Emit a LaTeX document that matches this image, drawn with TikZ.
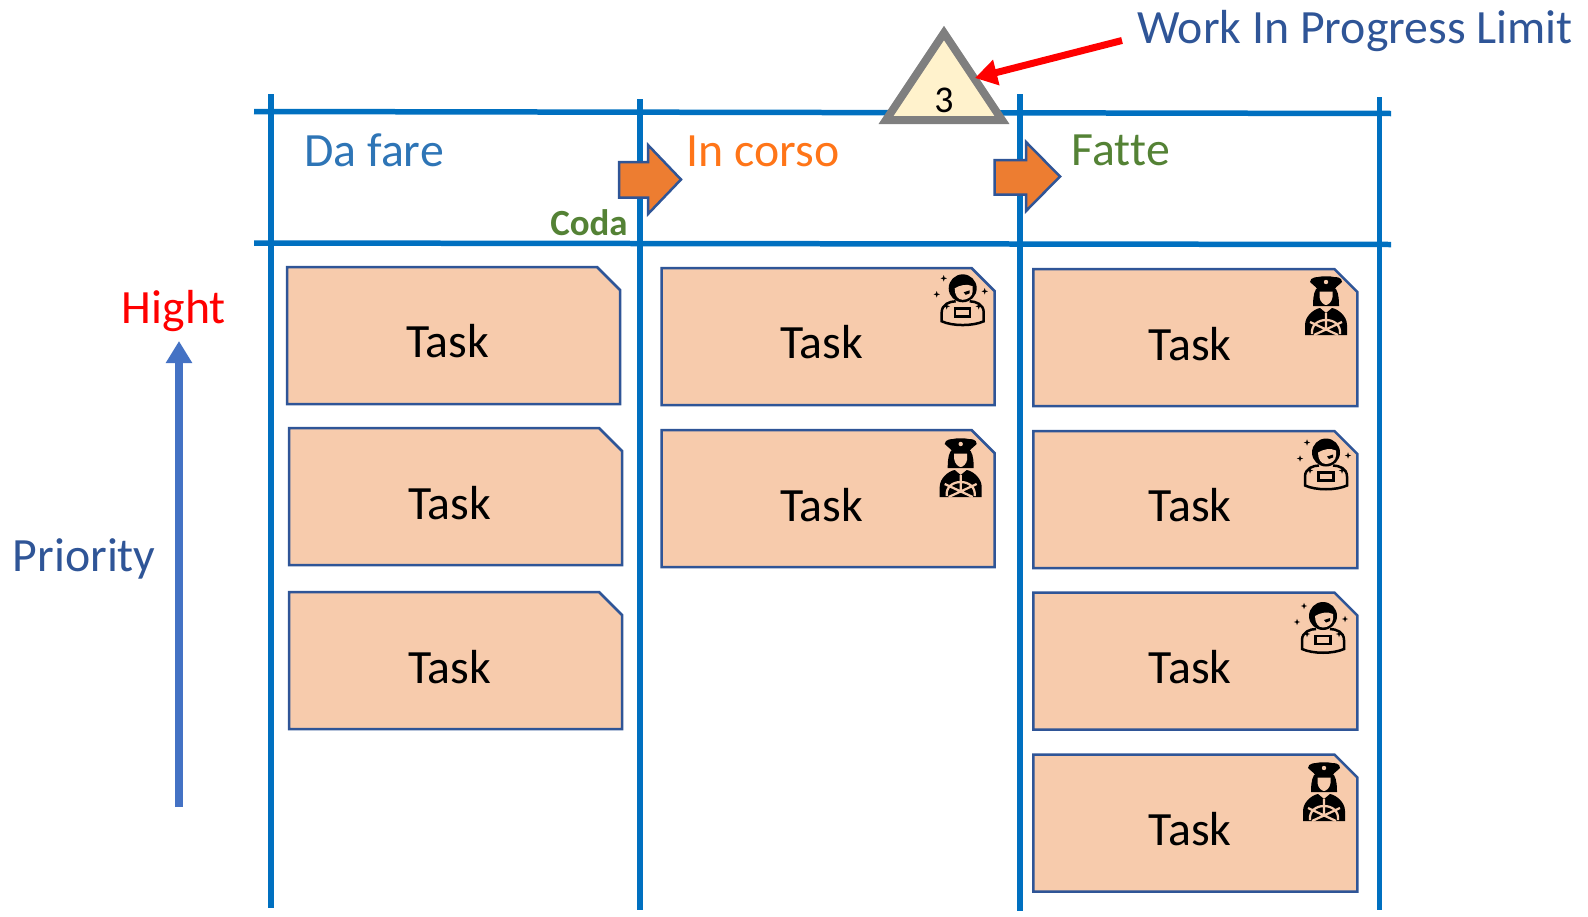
\documentclass[tikz,border=0pt]{standalone}
\usepackage{fontspec}
\setmainfont{Carlito}
\usetikzlibrary{arrows.meta}

\definecolor{gridblue}{HTML}{0070C0}
\definecolor{edgeblue}{HTML}{2F5597}
\definecolor{cardfill}{HTML}{F7CBAC}
\definecolor{flagorange}{HTML}{ED7D31}
\definecolor{todoblue}{HTML}{2E75B6}
\definecolor{doingorange}{HTML}{FF7518}
\definecolor{donegreen}{HTML}{548235}
\definecolor{limitgray}{HTML}{7F7F7F}
\definecolor{limitfill}{HTML}{FFF2CC}
\definecolor{priorityblue}{HTML}{4472C4}

\tikzset{
  cardline/.style={draw=edgeblue, fill=cardfill, line width=0.05cm},
  tasktext/.style={anchor=base west, inner sep=0pt, font=\fontsize{27.2}{30}\selectfont},
  headtext/.style={anchor=base west, inner sep=0pt, font=\fontsize{27.2}{30}\selectfont},
  gridline/.style={gridblue, line width=0.11cm},
  flagarrow/.style={draw=edgeblue, fill=flagorange, line width=0.05cm},
  fatarrow/.style={-{Triangle[length=0.44cm,width=0.5cm]}},
  pics/widecard/.style={code={
    \draw[cardline] (0,0) -- (310,0) -- (333,23) -- (333,137) -- (0,137) -- cycle;
  }},
  pics/narrowcard/.style={code={
    \draw[cardline] (0,0) -- (301,0) -- (324,23) -- (324,137) -- (0,137) -- cycle;
  }},
  pics/sparkle/.style={code={
    \fill (-3.2,0) -- (-0.8,-0.8) -- (0,-3.2) -- (0.8,-0.8) -- (3.2,0) -- (0.8,0.8) -- (0,3.2) -- (-0.8,0.8) -- cycle;
  }},
  pics/astronaut/.style={code={
    % helmet
    \fill (0,0) circle [radius=14];
    \fill[cardfill] (-8,0) .. controls (-3,-3) and (4,-5) .. (10,-2) -- (10,3)
      .. controls (10,8) and (5,11.5) .. (0,11.5) .. controls (-5,11.5) and (-8,7) .. (-8,0) -- cycle;
    \fill (1,4) -- (7,2) -- (7,5) -- (3,6.5) -- cycle;
    % suit
    \draw[line width=0.05cm] (-7,13) .. controls (-13,13) and (-21,16) .. (-21,24) -- (-21,33)
      .. controls (-10,38) and (10,38) .. (21,33) -- (21,24) .. controls (21,16) and (13,13) .. (7,13);
    \draw[line width=0.05cm] (-7.5,20) rectangle (7.5,28);
    \pic at (-19,-10) {sparkle};
    \pic at (-26,6) {sparkle};
    \pic at (22,3) {sparkle};
    \pic at (-16,18) {sparkle};
    \pic at (16,18) {sparkle};
  }},
  pics/captain/.style={code={
    % cap
    \fill (-16,0) .. controls (-16,-5) and (-8,-5) .. (-8,-5) .. controls (-4,-6) and (4,-6) .. (8,-5)
      .. controls (10,-5) and (16,-5) .. (16,0) .. controls (14,3) and (10,4) .. (9,7) -- (-9,7) .. controls (-10,4) and (-14,3) .. (-16,0) -- cycle;
    \fill[cardfill] (0,0) circle [radius=2.2];
    % hair and face
    \fill (-10,7) .. controls (-13,12) and (-13,20) .. (-13,24) -- (13,24) .. controls (13,20) and (13,12) .. (10,7) -- cycle;
    \fill[cardfill] (-6.5,9.5) -- (6.5,9.5) -- (6.5,15) .. controls (6,20) and (2,23) .. (0,23) .. controls (-2,23) and (-6,20) .. (-6.5,15) -- cycle;
    % body
    \fill (-21,53) -- (-21,43) .. controls (-21,34) and (-12,27) .. (-6,26) -- (0,31) -- (6,26)
      .. controls (12,27) and (21,34) .. (21,43) -- (21,53) -- cycle;
    % wheel
    \draw[cardfill, line width=0.045cm] (0,31) -- (0,46) (-16,40) -- (12,53) (16,40) -- (-12,53);
    \draw[cardfill, line width=0.045cm] (-14,52) .. controls (-15,43) and (-8,38) .. (0,38) .. controls (8,38) and (15,43) .. (14,52);
  }},
}

\begin{document}
\begin{tikzpicture}[x=0.02cm, y=-0.02cm]
  \useasboundingbox (0,0) rectangle (1588,916);

  % board
  \draw[gridline] (254,111.5) -- (1391,113.5);
  \draw[gridline] (254,243) -- (1391,244.5);
  \draw[gridline] (271,94) -- (271,908);
  \draw[gridline] (640,99) -- (640,910);
  \draw[gridline] (1020,94) -- (1020,911);
  \draw[gridline] (1379.5,97) -- (1379.5,910);

  % headers
  \node[headtext, text=todoblue] (todo) at (304,166) {Da fare};
  \node[headtext, text=doingorange] (doing) at (686.5,166) {In corso};
  \node[headtext, text=donegreen] (done) at (1071.5,165) {Fat\kern0pt te};
  \node[anchor=base east, inner sep=0pt, text=donegreen, font=\bfseries\fontsize{21}{24}\selectfont] (queue) at (628,235) {Coda};

  \draw[flagarrow] (619,162) -- (648,162) -- (648,145) -- (681,179.5) -- (648,214) -- (648,197.5) -- (619,197.5) -- cycle;
  \draw[flagarrow] (994.5,160) -- (1026,160) -- (1026,142) -- (1060,176.5) -- (1026,211) -- (1026,194.5) -- (994.5,194.5) -- cycle;

  % cards, first column
  \pic at (287,267) {widecard};
  \pic at (289,428) {widecard};
  \pic at (289,592) {widecard};
  \node[tasktext] (todoatext) at (406,357.5) {Task};
  \node[tasktext] (todobtext) at (408,519.5) {Task};
  \node[tasktext] (todoctext) at (408,683.5) {Task};

  % cards, second column
  \pic at (661.5,268) {widecard};
  \pic at (661.5,430) {widecard};
  \node[tasktext] (doingatext) at (780,358.5) {Task};
  \node[tasktext] (doingbtext) at (780,521.5) {Task};
  \pic at (962.7,288.3) {astronaut};
  \pic at (960.7,444) {captain};

  % cards, third column
  \pic at (1033.3,269) {narrowcard};
  \pic at (1033.3,431) {narrowcard};
  \pic at (1033.3,592.5) {narrowcard};
  \pic at (1033.3,754.5) {narrowcard};
  \node[tasktext] (doneatext) at (1148.5,360.5) {Task};
  \node[tasktext] (donebtext) at (1148.5,521.5) {Task};
  \node[tasktext] (donectext) at (1148.5,683.5) {Task};
  \node[tasktext] (donedtext) at (1148.5,845.5) {Task};
  \pic at (1326,282) {captain};
  \pic at (1326,452.5) {astronaut};
  \pic at (1323,616) {astronaut};
  \pic at (1324,768) {captain};

  % limit
  \draw[draw=limitgray, fill=limitfill, line width=0.16cm, miter limit=10]
    (944,33) -- (1002,120) -- (886,120) -- cycle;
  \node[inner sep=0pt, font=\fontsize{21.5}{24}\selectfont] (limit) at (944,100) {3};
  \node[anchor=base west, inner sep=0pt, text=edgeblue, font=\fontsize{27.2}{30}\selectfont] (limitname) at (1137,43.5) {Work In Progress Limit};
  \coordinate (limitfrom) at (1122,40.5);
  \coordinate (limitto) at (975,78);
  \draw[fatarrow, red, line width=0.14cm] (limitfrom) -- (limitto);

  % priority
  \coordinate (prioritylow) at (179,807);
  \coordinate (priorityhigh) at (179,341);
  \draw[fatarrow, priorityblue, line width=0.16cm] (prioritylow) -- (priorityhigh);
  \node[headtext, text=red] (high) at (121.5,323) {Hight};
  \node[headtext, text=edgeblue] (priority) at (12.5,571) {Priority};
\end{tikzpicture}
\end{document}
